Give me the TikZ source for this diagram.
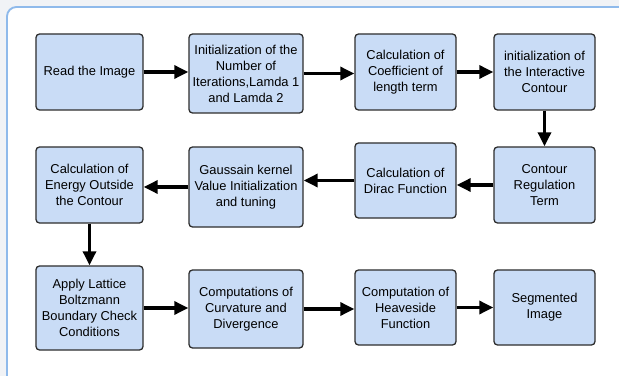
\documentclass[tikz,border=0pt]{standalone}
\usepackage{fontspec}
\setmainfont{Liberation Sans}
\usetikzlibrary{arrows.meta, positioning}
\definecolor{boxBlue}{HTML}{C9DCF6}
\definecolor{boxEdge}{HTML}{2E2E2E}
\definecolor{frameBlue}{HTML}{8FBAEB}
\definecolor{pageGray}{HTML}{F1F3F6}

\begin{document}
\begin{tikzpicture}[x=0.03cm, y=-0.03cm,
    stepbox/.style={draw=boxEdge, fill=boxBlue, line width=1.1pt, rounded corners=3pt,
                    align=center, inner sep=2pt, font=\fontsize{11}{13.6}\selectfont},
    flow/.style={-{Triangle[length=12pt, width=11pt]}, line width=3pt}]
    \clip (0,0) rectangle (619,376);
    \fill[pageGray] (0,0) rectangle (619,376);
    \draw[frameBlue, fill=white, line width=1.6pt, rounded corners=8pt] (7,7) rectangle (640,395);

    % first row
    \node[stepbox, minimum width=3.21cm, minimum height=2.28cm] (read) at (89.5,72)
          {Read the Image};
    \node[stepbox, minimum width=3.42cm, minimum height=2.37cm] (iter) at (246,73.5)
          {Initialization of the\\Number of\\Iterations,Lamda 1\\and Lamda 2};
    \node[stepbox, minimum width=3.03cm, minimum height=2.28cm] (coef) at (405.5,72)
          {Calculation of\\Coefficient of\\length term};
    \node[stepbox, minimum width=3.03cm, minimum height=2.28cm] (init) at (544.5,72)
          {initialization of\\the Interactive\\Contour};

    % second row
    \node[stepbox, minimum width=3.03cm, minimum height=2.28cm] (regul) at (544.5,185)
          {Contour\\Regulation\\Term};
    \node[stepbox, minimum width=3.03cm, minimum height=2.25cm] (dirac) at (405.5,180.5)
          {Calculation of\\Dirac Function};
    \node[stepbox, minimum width=3.42cm, minimum height=2.4cm] (gauss) at (246,187)
          {Gaussain kernel\\Value Initialization\\and tuning};
    \node[stepbox, minimum width=3.21cm, minimum height=2.28cm] (energy) at (89.5,185)
          {Calculation of\\Energy Outside\\the Contour};

    % third row
    \node[stepbox, minimum width=3.21cm, minimum height=2.52cm] (lattice) at (89.5,308)
          {Apply Lattice\\Boltzmann\\Boundary Check\\Conditions};
    \node[stepbox, minimum width=3.42cm, minimum height=2.34cm] (curv) at (246,309)
          {Computations of\\Curvature and\\Divergence};
    \node[stepbox, minimum width=3.03cm, minimum height=2.25cm] (heavi) at (405.5,307.5)
          {Computation of\\Heaveside\\Function};
    \node[stepbox, minimum width=3.03cm, minimum height=2.25cm] (seg) at (544.5,307.5)
          {Segmented\\Image};

    \draw[flow] (read.east) -- (read.east -| iter.west);
    \draw[flow] (iter.east) -- (iter.east -| coef.west);
    \draw[flow] (coef.east) -- (coef.east -| init.west);
    \draw[flow] (init.south) -- (init.south |- regul.north);
    \draw[flow] (regul.west) -- (regul.west -| dirac.east);
    \draw[flow] (dirac.west) -- (dirac.west -| gauss.east);
    \draw[flow] (gauss.west) -- (gauss.west -| energy.east);
    \draw[flow] (energy.south) -- (energy.south |- lattice.north);
    \draw[flow] (lattice.east) -- (lattice.east -| curv.west);
    \draw[flow] (curv.east) -- (curv.east -| heavi.west);
    \draw[flow] (heavi.east) -- (heavi.east -| seg.west);
\end{tikzpicture}
\end{document}
